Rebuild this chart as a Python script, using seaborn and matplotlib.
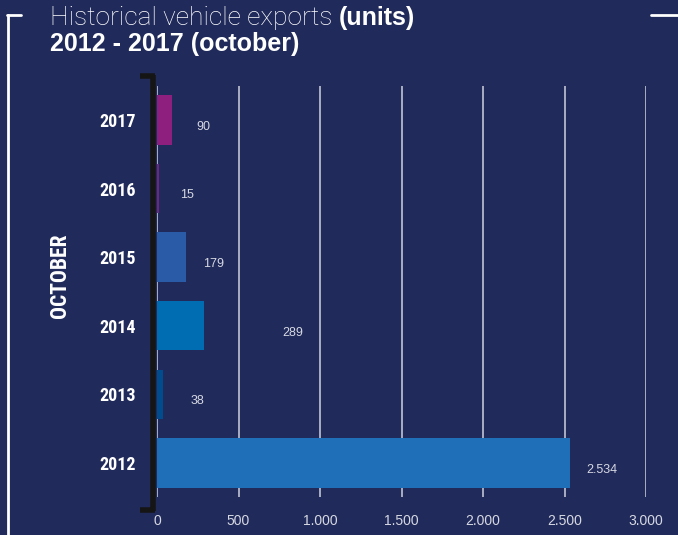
import matplotlib
matplotlib.use("Agg")
import matplotlib.pyplot as plt
from matplotlib.lines import Line2D
from matplotlib.ticker import FuncFormatter
import pandas as pd
import seaborn as sns

# datos (exportaciones de octubre, unidades)
years = ["2017", "2016", "2015", "2014", "2013", "2012"]
units = [90, 15, 179, 289, 38, 2534]
bar_colors = ["#8e1f7e", "#6e2781", "#2a5ba6", "#006cb1", "#004c8c", "#1f6fb8"]
x_ticks = [0, 500, 1000, 1500, 2000, 2500, 3000]

# separacion (pt) entre el final de la barra y su etiqueta, como en el original
label_pad = [18, 15, 12, 56, 20, 12]

BG = "#212b5b"
GRID = "#cfd2de"
TEXT_LIGHT = "#d6d8e2"
NARROW = ["Liberation Sans Narrow", "Roboto Condensed", "Liberation Sans", "DejaVu Sans"]


def fmt_miles(v, pos=None):
    return f"{int(v):,}".replace(",", ".")


def main():
    df = pd.DataFrame({"year": years, "units": units})

    sns.set_theme(style="white")
    plt.rcParams["font.family"] = ["Liberation Sans", "DejaVu Sans"]

    fig = plt.figure(figsize=(6.78, 5.35), dpi=100, facecolor=BG)
    ax = fig.add_axes([0.2316, 0.0705, 0.7212, 0.7695], facecolor=BG)

    sns.barplot(data=df, x="units", y="year", hue="year", order=years,
                palette=dict(zip(years, bar_colors)), orient="h",
                width=0.72, saturation=1, legend=False, linewidth=0,
                ax=ax, zorder=3)

    ax.set_xlim(0, 3000)
    ax.set_ylim(5.5, -0.5)
    ax.set_xticks(x_ticks)
    ax.xaxis.set_major_formatter(FuncFormatter(fmt_miles))
    ax.grid(axis="x", color=GRID, linewidth=1.1, zorder=0)
    ax.grid(axis="y", visible=False)
    for s in ax.spines.values():
        s.set_visible(False)
    ax.tick_params(axis="x", length=0, pad=12, labelsize=10, labelcolor=TEXT_LIGHT)
    ax.tick_params(axis="y", length=0, pad=15)
    for lbl in ax.get_yticklabels():
        lbl.set_color("white")
        lbl.set_fontweight("bold")
        lbl.set_fontsize(13)
        lbl.set_family(NARROW)
    ax.set_xlabel("")
    ax.set_ylabel("")

    # valores al final de cada barra
    for i, v in enumerate(units):
        ax.annotate(fmt_miles(v), (v, i), xytext=(label_pad[i], -5),
                    textcoords="offset points", ha="left", va="center",
                    fontsize=9, color=TEXT_LIGHT)

    # corchete negro del eje y
    W, H = 678, 535
    def fx(px):
        return px / W
    def fy(py):
        return 1 - py / H
    bk = dict(color="#151515", linewidth=4, solid_capstyle="butt")
    fig.add_artist(Line2D([fx(153), fx(153)], [fy(75), fy(511)], **bk))
    fig.add_artist(Line2D([fx(140), fx(155)], [fy(76.5), fy(76.5)], **bk))
    fig.add_artist(Line2D([fx(140), fx(155)], [fy(509.5), fy(509.5)], **bk))

    # marco blanco
    wk = dict(color="white", linewidth=2)
    fig.add_artist(Line2D([fx(8), fx(8)], [fy(15), fy(540)], **wk))
    fig.add_artist(Line2D([fx(7), fx(21)], [fy(15), fy(15)], **wk))
    fig.add_artist(Line2D([fx(651), fx(680)], [fy(15), fy(15)], **wk))

    fig.text(fx(60), fy(276), "OCTOBER", rotation=90, ha="center", va="center",
             color="white", fontsize=15.5, fontweight="bold", family=NARROW)

    # titulo
    t1 = fig.text(fx(50), fy(18), "Historical vehicle exports ", ha="left", va="center",
                  color="white", fontsize=19, fontweight="light",
                  family=["Roboto", "Liberation Sans", "DejaVu Sans"])
    fig.canvas.draw()
    bb = t1.get_window_extent()
    fig.text(bb.x1 / W, fy(18), "(units)", ha="left", va="center",
             color="white", fontsize=18, fontweight="bold")
    fig.text(fx(50), fy(44), "2012 - 2017 (october)", ha="left", va="center",
             color="white", fontsize=18, fontweight="bold")

    fig.savefig("out.png", dpi=100, facecolor=BG)
    plt.close(fig)


if __name__ == "__main__":
    main()
